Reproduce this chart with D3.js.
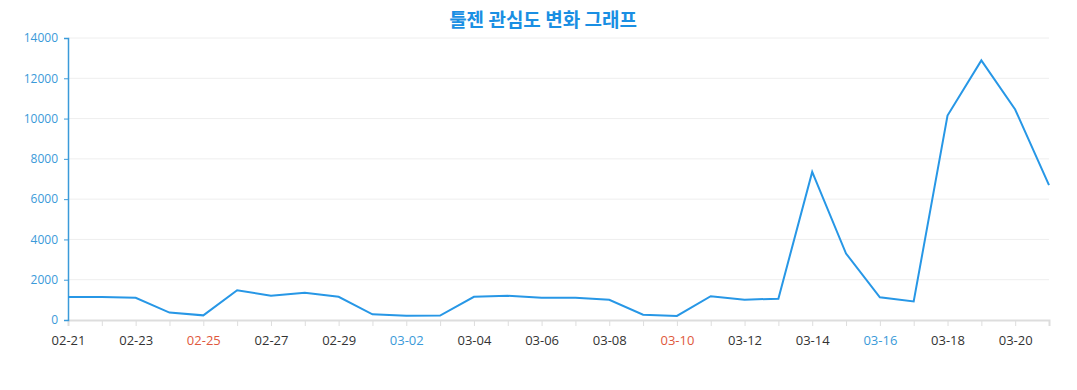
<!DOCTYPE html>
<html>
<head>
<meta charset="utf-8">
<script src="https://cdn.jsdelivr.net/npm/d3@7"></script>
<style>
    body { margin: 0; background: #fff; font-family: "Open Sans", "Noto Sans", "Noto Sans CJK KR", sans-serif; }
    .title { font-family: "Noto Sans CJK KR", sans-serif; font-weight: bold; font-size: 19px; fill: #1a8fe3; }
    .y-axis text { fill: #3a9ad9; font-size: 12px; font-family: "Open Sans", sans-serif; }
    .x-axis text { font-size: 13px; font-family: "Open Sans", sans-serif; }
</style>
</head>
<body>
<div id="chart"></div>
<script>
// dates (2024)
let dates = ["02-21","02-22","02-23","02-24","02-25","02-26","02-27","02-28","02-29",
    "03-01","03-02","03-03","03-04","03-05","03-06","03-07","03-08","03-09","03-10",
    "03-11","03-12","03-13","03-14","03-15","03-16","03-17","03-18","03-19","03-20","03-21"];
let interest = [1140,1140,1100,370,230,1480,1200,1350,1150,
    280,210,220,1150,1200,1100,1110,1000,260,200,
    1180,1010,1060,7350,3300,1130,920,10150,12890,10450,6700];
let yTicks = [0,2000,4000,6000,8000,10000,12000,14000];
let saturdays = ["03-02","03-16"];
let sundays = ["02-25","03-10"];

let margin = {top: 38, right: 28, bottom: 70, left: 68};
let width = 1077 - margin.left - margin.right;
let height = 390 - margin.top - margin.bottom;

let svg = d3.select("#chart").append("svg")
    .attr("width", 1077)
    .attr("height", 390);

svg.append("text")
    .attr("class", "title")
    .attr("x", 543)
    .attr("y", 27)
    .attr("text-anchor", "middle")
    .text("툴젠 관심도 변화 그래프");

let g = svg.append("g")
    .attr("transform", "translate(" + margin.left + "," + margin.top + ")");

let x = d3.scalePoint()
    .domain(dates)
    .range([0, width]);

let y = d3.scaleLinear()
    .domain([0, 14000])
    .range([height, 0]);

// gridlines
g.selectAll(".grid")
    .data(yTicks.slice(1))
    .enter().append("line")
    .attr("class", "grid")
    .attr("x1", 0)
    .attr("x2", width)
    .attr("y1", d => y(d))
    .attr("y2", d => y(d))
    .attr("stroke", "#eeeeee")
    .attr("stroke-width", 1);

// x axis
let xAxis = d3.axisBottom(x)
    .tickSize(6)
    .tickPadding(10)
    .tickFormat((d, i) => i % 2 == 0 ? d : "");

let xg = g.append("g")
    .attr("class", "x-axis")
    .attr("transform", "translate(0," + height + ")")
    .call(xAxis);
xg.attr("font-family", null).attr("font-size", null);
xg.select(".domain").attr("stroke", "#dddddd").attr("stroke-width", 2);
xg.selectAll(".tick line").attr("stroke", "#dddddd");
xg.selectAll(".tick text")
    .attr("fill", d => sundays.includes(d) ? "#e0583c" : saturdays.includes(d) ? "#3a9ad9" : "#333333");

// y axis
let yAxis = d3.axisLeft(y)
    .tickValues(yTicks)
    .tickFormat(d3.format("d"))
    .tickSize(4)
    .tickPadding(6);

let yg = g.append("g")
    .attr("class", "y-axis")
    .call(yAxis);
yg.attr("font-family", null).attr("font-size", null);
yg.select(".domain").attr("stroke", "#3a9ad9").attr("stroke-width", 1.5);
yg.selectAll(".tick line").attr("stroke", "#3a9ad9");

// line
let line = d3.line()
    .x((d, i) => x(dates[i]))
    .y(d => y(d));

g.append("path")
    .datum(interest)
    .attr("fill", "none")
    .attr("stroke", "#2797e6")
    .attr("stroke-width", 2)
    .attr("d", line);
</script>
</body>
</html>
